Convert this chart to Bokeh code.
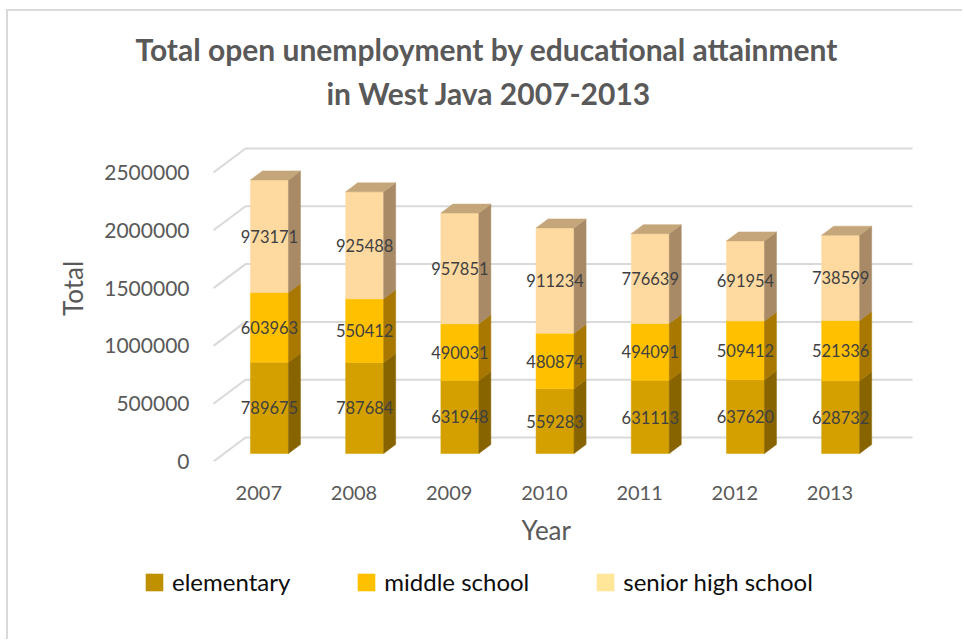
from bokeh.plotting import figure
from bokeh.layouts import column
from bokeh.models import Range1d, FixedTicker, Legend, LegendItem, Title
from bokeh.core.properties import value
from bokeh.embed import file_html
from bokeh.resources import INLINE

# ---------------- data ----------------
years = ["2007", "2008", "2009", "2010", "2011", "2012", "2013"]
elementary = [789675, 787684, 631948, 559283, 631113, 637620, 628732]
middle_school = [603963, 550412, 490031, 480874, 494091, 509412, 521336]
senior_high_school = [973171, 925488, 957851, 911234, 776639, 691954, 738599]
series_names = ["elementary", "middle school", "senior high school"]
y_ticks = [0, 500000, 1000000, 1500000, 2000000, 2500000]

# ---------------- styles ----------------
FRONT = ["#D4A000", "#FFC000", "#FFDAA0"]
SIDE = ["#886400", "#A87800", "#A88A66"]
TOP = "#C4A67A"
LEGEND_COL = ["#BF9000", "#FFC000", "#FFE699"]
FONT = "Lato"
GRAY = "#595959"
BORDER = "2px solid #D9D9D9"

# ---------------- geometry (page pixels) ----------------
OX, OY = 8, 11            # canvas origin on page (after css margin + border)
W = 964 - OX
SPLIT = 562               # page y where the legend strip starts
H1 = SPLIT - OY
H2 = 641 - SPLIT
FL, FR, FT, FB = 205, 930, 115, 461
PX_X = 95.2               # px per category step
X0 = 258.3                # page x of category 0 on front plane
PX_Y = 289 / 2.5e6        # px per unit
x_start = (FL - X0) / PX_X
x_end = (FR - X0) / PX_X
y_end = (FB - FT) / PX_Y
DX = 32 / PX_X            # full floor depth in data units
DY = 24 / PX_Y
F1, F2 = 1 / 3, 1 / 3 + 0.375
BW = 38 / PX_X
GX0 = (213 - X0) / PX_X
GX1 = (912 - 32 - X0) / PX_X

p = figure(width=W, height=H1, output_backend="svg", toolbar_location=None,
           x_range=Range1d(x_start, x_end), y_range=Range1d(0, y_end),
           min_border_left=FL - OX, min_border_right=W - (FR - OX),
           min_border_top=FT - OY, min_border_bottom=H1 - (FB - OY),
           title="Total open unemployment by educational attainment")
p.margin = (9, 0, 0, 6)
p.styles = {"border-left": BORDER, "border-top": BORDER}
p.background_fill_color = "white"
p.border_fill_color = "white"
p.outline_line_color = None
p.xgrid.visible = False
p.ygrid.visible = False

# titles
p.title.text_font = FONT
p.title.text_font_size = "30px"
p.title.text_font_style = "bold"
p.title.text_color = GRAY
p.title.align = "left"
p.title.offset = 135 - FL
p.title.standoff = 2
t2 = Title(text="in West Java 2007-2013", align="left",
           offset=326 - FL, text_font=FONT, text_font_size="30px", text_font_style="bold",
           text_color=GRAY, standoff=10)
p.add_layout(t2, "above")

# gridlines (perspective)
gxs, gys = [], []
for v in y_ticks:
    gxs.append([GX0, GX0 + DX, GX1 + DX])
    gys.append([v, v + DY, v + DY])
p.multi_line(gxs, gys, line_color="#D9D9D9", line_width=2)

# stacked 3d bars
series = [elementary, middle_school, senior_high_school]
idx = list(range(len(years)))
bottoms = [0] * len(years)
faces = []
for s, vals in enumerate(series):
    tops = [b + v for b, v in zip(bottoms, vals)]
    fl = [i - BW / 2 + F1 * DX for i in idx]
    fr = [i + BW / 2 + F1 * DX for i in idx]
    fb = [b + F1 * DY for b in bottoms]
    ft = [t + F1 * DY for t in tops]
    faces.append((fl, fr, fb, ft))
    p.quad(left=fl, right=fr, bottom=fb, top=ft,
           fill_color=FRONT[s], line_color=FRONT[s], line_width=0.5)
    sxs, sys_ = [], []
    for i, b, t in zip(idx, bottoms, tops):
        xr = i + BW / 2
        sxs.append([xr + F1 * DX, xr + F2 * DX, xr + F2 * DX, xr + F1 * DX])
        sys_.append([b + F1 * DY, b + F2 * DY, t + F2 * DY, t + F1 * DY])
    p.patches(sxs, sys_, fill_color=SIDE[s], line_color=SIDE[s], line_width=0.5)
    if s == len(series) - 1:
        txs, tys = [], []
        for i, t in zip(idx, tops):
            xl, xr = i - BW / 2, i + BW / 2
            txs.append([xl + F1 * DX, xr + F1 * DX, xr + F2 * DX, xl + F2 * DX])
            tys.append([t + F1 * DY, t + F1 * DY, t + F2 * DY, t + F2 * DY])
        p.patches(txs, tys, fill_color=TOP, line_color=TOP, line_width=0.5)
    p.text(x=[i + F1 * DX for i in idx], y=[(b + t) / 2 + F1 * DY for b, t in zip(bottoms, tops)],
           text=[str(v) for v in vals], text_align="center", text_baseline="middle",
           text_font=value(FONT), text_font_size="16.5px", text_color="#404040")
    bottoms = tops

# axes
yax = p.yaxis[0]
yax.ticker = FixedTicker(ticks=y_ticks)
yax.major_label_overrides = {v: str(v) for v in y_ticks}
yax.axis_line_color = None
yax.major_tick_line_color = None
yax.minor_tick_line_color = None
yax.major_label_standoff = 10
yax.major_label_text_font = FONT
yax.major_label_text_font_size = "21px"
yax.major_label_text_color = GRAY
yax.axis_label = "Total"
yax.axis_label_text_font = FONT
yax.axis_label_text_font_size = "26px"
yax.axis_label_text_font_style = "normal"
yax.axis_label_text_color = GRAY
yax.axis_label_standoff = 12

xax = p.xaxis[0]
xax.ticker = FixedTicker(ticks=idx)
xax.major_label_overrides = {i: y for i, y in enumerate(years)}
xax.axis_line_color = None
xax.major_tick_line_color = None
xax.minor_tick_line_color = None
xax.major_label_standoff = 18
xax.major_label_text_font = FONT
xax.major_label_text_font_size = "20px"
xax.major_label_text_color = GRAY

# x axis title, placed to match the reference (left of the frame centre)
xt = Title(text="Year", align="left", vertical_align="top", offset=521 - FL,
           text_font=FONT, text_font_size="26px", text_font_style="normal",
           text_color=GRAY, standoff=22)
p.add_layout(xt, "below")

# ---------------- legend strip ----------------
lf = figure(width=W, height=H2, output_backend="svg", toolbar_location=None,
            x_range=Range1d(x_start, x_end), y_range=Range1d(-3, -2),
            x_axis_location=None, y_axis_location=None,
            min_border=0, min_border_left=0, min_border_right=0,
            min_border_top=0, min_border_bottom=0)
frame_aligned = "frame_align" in lf.properties()
if frame_aligned:
    lf.frame_align = False
    p.frame_align = False
lf.margin = (0, 0, 0, 6)
lf.styles = {"border-left": BORDER}
lf.outline_line_color = None
lf.xgrid.visible = False
lf.ygrid.visible = False
lf.background_fill_color = "white"
lf.border_fill_color = "white"
legend_renderers = []
for s, (fl, fr, fb, ft) in enumerate(faces):
    # same front faces, out of this strip's view; they only carry the legend colour
    legend_renderers.append(lf.quad(left=fl, right=fr, bottom=fb, top=ft,
                                    fill_color=LEGEND_COL[s], line_color=None))
items = [LegendItem(label=name, renderers=[r]) for name, r in zip(series_names, legend_renderers)]
leg_x = (143 - OX) if frame_aligned else (143 - FL)
legend = Legend(items=items, orientation="horizontal", location=(leg_x, 641 - 583 - 15),
                glyph_width=22, glyph_height=22, label_standoff=7, spacing=65,
                padding=0, margin=0, border_line_color=None, background_fill_alpha=0,
                label_text_font=FONT, label_text_font_size="24px", label_text_color="#0D0D0D")
lf.add_layout(legend, "center")

layout = column(p, lf, spacing=0)
open("out.html", "w").write(file_html(layout, INLINE))
